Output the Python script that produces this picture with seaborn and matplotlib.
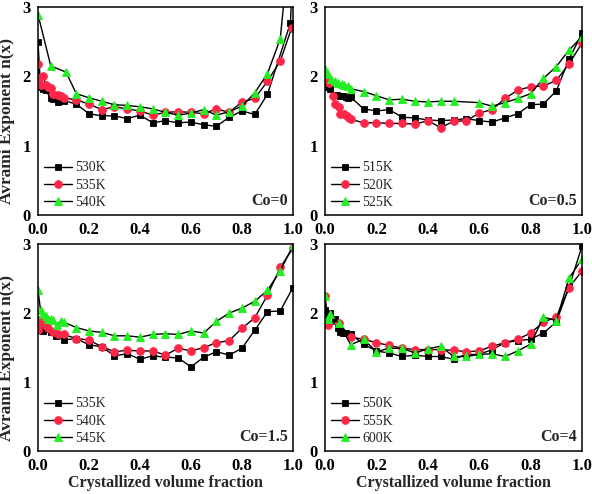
import numpy as np
import pandas as pd
import seaborn as sns
import matplotlib.pyplot as plt

# ---- Co=0 ----
co0_530_x = [0.0, 0.01, 0.02, 0.03, 0.05, 0.06, 0.08, 0.1, 0.15, 0.2, 0.25, 0.3, 0.35, 0.4, 0.45, 0.5,
             0.55, 0.6, 0.65, 0.7, 0.75, 0.8, 0.85, 0.9, 0.99, 1.0]
co0_530_y = [2.49, 1.85, 1.82, 1.80, 1.68, 1.67, 1.63, 1.65, 1.60, 1.46, 1.43, 1.43, 1.39, 1.44, 1.33, 1.36,
             1.33, 1.34, 1.30, 1.28, 1.41, 1.50, 1.45, 1.74, 2.77, 3.6]
co0_535_x = [0.0, 0.005, 0.01, 0.02, 0.03, 0.04, 0.05, 0.06, 0.08, 0.09, 0.1, 0.15, 0.2, 0.25, 0.3, 0.35,
             0.4, 0.45, 0.5, 0.55, 0.6, 0.65, 0.7, 0.75, 0.8, 0.85, 0.9, 0.95, 0.995]
co0_535_y = [2.18, 1.98, 1.87, 2.01, 1.88, 1.85, 1.83, 1.74, 1.73, 1.71, 1.69, 1.66, 1.60, 1.52, 1.56, 1.53,
             1.50, 1.44, 1.48, 1.49, 1.48, 1.46, 1.53, 1.48, 1.63, 1.68, 1.93, 2.22, 2.70]
co0_540_x = [0.0, 0.05, 0.11, 0.15, 0.2, 0.25, 0.3, 0.35, 0.4, 0.45, 0.5, 0.55, 0.6, 0.65, 0.7, 0.75,
             0.8, 0.85, 0.9, 0.95, 1.0]
co0_540_y = [2.89, 2.15, 2.06, 1.75, 1.69, 1.64, 1.59, 1.58, 1.56, 1.53, 1.48, 1.44, 1.47, 1.52, 1.44, 1.49,
             1.57, 1.76, 2.04, 2.54, 4.4]

# ---- Co=0.5 ----
co05_515_x = [0.0, 0.01, 0.02, 0.045, 0.06, 0.07, 0.08, 0.09, 0.1, 0.15, 0.2, 0.25, 0.3, 0.35, 0.4, 0.45,
              0.5, 0.55, 0.6, 0.65, 0.7, 0.75, 0.8, 0.85, 0.9, 0.95, 1.0]
co05_515_y = [1.86, 1.84, 1.82, 1.73, 1.72, 1.71, 1.70, 1.69, 1.70, 1.53, 1.50, 1.52, 1.41, 1.40, 1.37, 1.36,
              1.37, 1.39, 1.36, 1.34, 1.40, 1.46, 1.59, 1.60, 1.79, 2.25, 2.62]
co05_520_x = [0.0, 0.005, 0.015, 0.03, 0.04, 0.055, 0.06, 0.075, 0.085, 0.095, 0.1, 0.15, 0.2, 0.25, 0.3,
              0.35, 0.4, 0.45, 0.5, 0.55, 0.6, 0.65, 0.7, 0.75, 0.8, 0.85, 0.9, 0.95, 1.0]
co05_520_y = [2.01, 1.96, 1.90, 1.72, 1.60, 1.56, 1.46, 1.46, 1.43, 1.40, 1.38, 1.33, 1.33, 1.32, 1.32,
              1.31, 1.36, 1.26, 1.35, 1.36, 1.47, 1.52, 1.68, 1.80, 1.85, 1.86, 1.94, 2.18, 2.48]
co05_525_x = [0.0, 0.01, 0.025, 0.04, 0.05, 0.065, 0.075, 0.09, 0.1, 0.15, 0.2, 0.25, 0.3, 0.35, 0.4, 0.45,
              0.5, 0.6, 0.65, 0.7, 0.75, 0.8, 0.85, 0.9, 0.95, 1.0]
co05_525_y = [2.10, 2.04, 1.96, 1.93, 1.91, 1.89, 1.88, 1.86, 1.82, 1.78, 1.72, 1.66, 1.67, 1.64, 1.63, 1.64,
              1.64, 1.62, 1.57, 1.62, 1.68, 1.75, 1.97, 2.14, 2.38, 2.57]

# ---- Co=1.5 ----
co15_535_x = [0.0, 0.01, 0.02, 0.03, 0.05, 0.07, 0.1, 0.15, 0.2, 0.25, 0.3, 0.35, 0.4, 0.45, 0.5, 0.55,
              0.6, 0.65, 0.7, 0.75, 0.8, 0.85, 0.9, 0.95, 1.0]
co15_535_y = [1.82, 1.76, 1.74, 1.77, 1.72, 1.66, 1.61, 1.63, 1.54, 1.51, 1.38, 1.41, 1.33, 1.38, 1.36, 1.35,
              1.22, 1.36, 1.44, 1.39, 1.49, 1.75, 2.02, 2.03, 2.37]
co15_540_x = [0.0, 0.005, 0.01, 0.02, 0.03, 0.04, 0.06, 0.08, 0.1, 0.15, 0.2, 0.25, 0.3, 0.35, 0.4, 0.45,
              0.5, 0.55, 0.6, 0.65, 0.7, 0.75, 0.8, 0.85, 0.9, 0.95, 1.0]
co15_540_y = [1.75, 1.90, 1.86, 1.84, 1.82, 1.78, 1.73, 1.70, 1.69, 1.63, 1.61, 1.51, 1.44, 1.46, 1.45, 1.45,
              1.39, 1.49, 1.45, 1.50, 1.57, 1.60, 1.78, 1.93, 2.26, 2.66, 2.94]
co15_545_x = [0.0, 0.01, 0.02, 0.03, 0.04, 0.05, 0.06, 0.075, 0.09, 0.1, 0.15, 0.2, 0.25, 0.3, 0.35, 0.4,
              0.45, 0.5, 0.55, 0.6, 0.65, 0.7, 0.75, 0.8, 0.85, 0.9, 0.95, 1.0]
co15_545_y = [2.33, 2.04, 1.98, 1.95, 1.92, 1.91, 1.90, 1.83, 1.89, 1.87, 1.79, 1.74, 1.72, 1.67, 1.67, 1.65,
              1.69, 1.70, 1.69, 1.74, 1.71, 1.88, 2.00, 2.07, 2.17, 2.33, 2.61, 2.98]

# ---- Co=4 ----
co4_550_x = [0.0, 0.01, 0.02, 0.04, 0.05, 0.06, 0.07, 0.08, 0.1, 0.15, 0.2, 0.25, 0.3, 0.35, 0.4, 0.45,
             0.5, 0.55, 0.6, 0.65, 0.7, 0.75, 0.8, 0.85, 0.9, 0.95, 1.0]
co4_550_y = [2.05, 1.97, 2.00, 1.91, 1.79, 1.73, 1.71, 1.71, 1.69, 1.55, 1.45, 1.42, 1.37, 1.39, 1.37, 1.37,
             1.33, 1.40, 1.40, 1.47, 1.57, 1.60, 1.62, 1.71, 1.87, 2.38, 2.97]
co4_555_x = [0.0, 0.01, 0.055, 0.1, 0.15, 0.2, 0.25, 0.3, 0.35, 0.4, 0.45, 0.5, 0.55, 0.6, 0.65, 0.7,
             0.75, 0.8, 0.85, 0.9, 0.95, 1.0]
co4_555_y = [2.24, 1.83, 1.85, 1.65, 1.62, 1.57, 1.53, 1.49, 1.47, 1.47, 1.47, 1.46, 1.44, 1.45, 1.52, 1.57,
             1.62, 1.71, 1.87, 1.94, 2.37, 2.61]
co4_600_x = [0.0, 0.01, 0.02, 0.055, 0.1, 0.15, 0.2, 0.25, 0.3, 0.35, 0.4, 0.45, 0.5, 0.55, 0.6, 0.65,
             0.7, 0.75, 0.8, 0.85, 0.9, 0.95, 1.0]
co4_600_y = [2.24, 1.91, 1.98, 1.85, 1.54, 1.62, 1.44, 1.49, 1.49, 1.42, 1.48, 1.52, 1.37, 1.37, 1.40, 1.41,
             1.37, 1.45, 1.55, 1.94, 1.89, 2.51, 2.78]

panels = [
    ("Co=0", [("530K", co0_530_x, co0_530_y), ("535K", co0_535_x, co0_535_y), ("540K", co0_540_x, co0_540_y)]),
    ("Co=0.5", [("515K", co05_515_x, co05_515_y), ("520K", co05_520_x, co05_520_y), ("525K", co05_525_x, co05_525_y)]),
    ("Co=1.5", [("535K", co15_535_x, co15_535_y), ("540K", co15_540_x, co15_540_y), ("545K", co15_545_x, co15_545_y)]),
    ("Co=4", [("550K", co4_550_x, co4_550_y), ("555K", co4_555_x, co4_555_y), ("600K", co4_600_x, co4_600_y)]),
]

styles = [
    dict(marker="s", markersize=4.8, markerfacecolor="black", markeredgecolor="black"),
    dict(marker="o", markersize=5.6, markerfacecolor="#ff2648", markeredgecolor="#ff2648"),
    dict(marker="^", markersize=6.0, markerfacecolor="#22ee22", markeredgecolor="#22ee22"),
]

sns.set_style("white")
plt.rcParams["font.family"] = ["Liberation Serif", "DejaVu Serif"]

fig = plt.figure(figsize=(5.92, 4.94), dpi=100)
positions = [
    [0.0642, 0.5648, 0.4307, 0.4211],
    [0.5490, 0.5648, 0.4341, 0.4211],
    [0.0642, 0.0870, 0.4307, 0.4190],
    [0.5490, 0.0870, 0.4341, 0.4190],
]

for i, (title, series) in enumerate(panels):
    ax = fig.add_axes(positions[i])
    for (label, xs, ys), st in zip(series, styles):
        df = pd.DataFrame({"x": xs, "y": ys})
        sns.lineplot(data=df, x="x", y="y", ax=ax, color="black", linewidth=1.0,
                     estimator=None, sort=False, label=label, markeredgewidth=0.6, **st)
    ax.set_xlim(0, 1)
    ax.set_ylim(0, 3)
    ax.set_xticks([0.0, 0.2, 0.4, 0.6, 0.8, 1.0])
    ax.set_xticklabels(["0.0", "0.2", "0.4", "0.6", "0.8", "1.0"])
    ax.set_xticks([0.1, 0.3, 0.5, 0.7, 0.9], minor=True)
    ax.set_yticks([0, 1, 2, 3])
    ax.set_yticklabels(["0", "1", "2", "3"])
    ax.tick_params(axis="both", which="major", direction="out", length=4, width=1.0,
                   labelsize=12, pad=1, colors="black")
    ax.tick_params(axis="x", which="minor", direction="in", length=2, width=0.8)
    for lab in ax.get_xticklabels() + ax.get_yticklabels():
        lab.set_fontweight("bold")
    for sp in ax.spines.values():
        sp.set_color("black")
        sp.set_linewidth(1.1)
    ax.set_xlabel("")
    ax.set_ylabel("")
    if i % 2 == 0:
        ax.set_ylabel("Avrami Exponent n(x)", fontsize=12.5, fontweight="bold")
        ax.yaxis.set_label_coords(-0.09, 0.45)
    if i >= 2:
        ax.set_xlabel("Crystallized volume fraction", fontsize=11.5, fontweight="bold", labelpad=1)
    ax.legend(loc="lower left", bbox_to_anchor=(-0.01, -0.01), frameon=False, fontsize=10,
              handlelength=2.0, handletextpad=0.25, labelspacing=0.3, borderaxespad=0.2)
    ax.text(0.98, 0.03, title, transform=ax.transAxes, ha="right", va="bottom",
            fontsize=11.5, fontweight="bold")

plt.savefig("out.png", dpi=100)
